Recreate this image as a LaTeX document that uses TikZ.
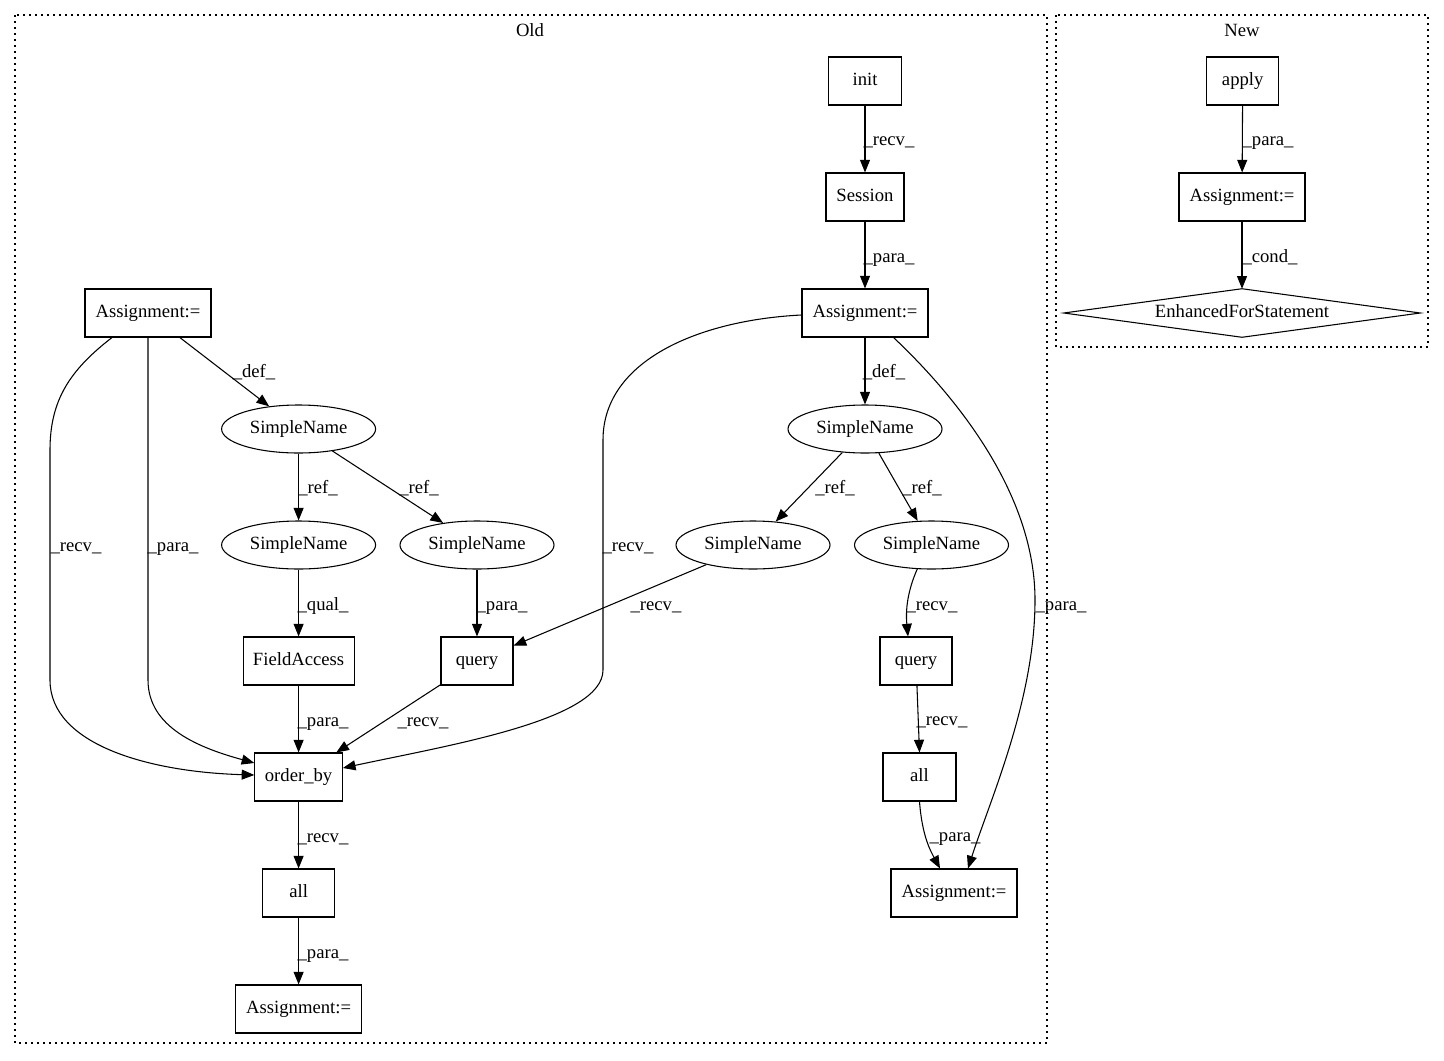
\documentclass[tikz,border=0pt]{standalone}
\usepackage{fontspec}
\setmainfont{Liberation Serif}
\usetikzlibrary{arrows.meta,calc,shapes.geometric}
\begin{document}
\begin{tikzpicture}[x=0.75pt,y=-0.75pt,
  every node/.style={font=\fontsize{14pt}{16pt}\selectfont,text height=10pt,text depth=3pt},
  box/.style={draw,line width=0.8pt,rectangle,minimum height=36pt,inner sep=0pt},
  ell/.style={draw,line width=0.8pt,ellipse,minimum width=115.5pt,minimum height=36pt,inner sep=0pt},
  edge/.style={draw,line width=0.8pt,-{Triangle[length=9.5pt,width=7.5pt]}},
  lbl/.style={inner sep=0pt,yshift=-1.5pt},
  cluster/.style={draw,line width=0.8pt,dash pattern=on 1.2pt off 3.3pt}]
\useasboundingbox (0,0) rectangle (1444,1060);

% clusters
\draw[cluster] (15,15) rectangle (1047,1043);
\draw[cluster] (1056,15) rectangle (1428,347);
\node[yshift=-1.5pt] (old) at (530,30) {Old};
\node[yshift=-1.5pt] (new) at (1242,30) {New};

% nodes - Old
\node[box,minimum width=54.75pt] (init) at (865,81) {init};
\node[box,minimum width=58.5pt] (sess) at (865,197) {Session};
\node[box,minimum width=94.5pt] (A2) at (865,313) {Assignment:=};
\node[box,minimum width=94.5pt] (A1) at (148,313) {Assignment:=};
\node[ell] (S1) at (298.6,429) {SimpleName};
\node[ell] (S2) at (298.6,545) {SimpleName};
\node[ell] (S3) at (477,545) {SimpleName};
\node[ell] (S4) at (865,429) {SimpleName};
\node[ell] (S5) at (753,545) {SimpleName};
\node[ell] (S6) at (931.5,545) {SimpleName};
\node[box,minimum width=83.25pt] (fa) at (298.6,661) {FieldAccess};
\node[box,minimum width=54pt] (q1) at (477,661) {query};
\node[box,minimum width=54pt] (q2) at (916,661) {query};
\node[box,minimum width=65.6pt] (ob) at (298.6,777) {order\_by};
\node[box,minimum width=54pt] (all1) at (298.6,893) {all};
\node[box,minimum width=54.75pt] (all2) at (919.5,777) {all};
\node[box,minimum width=94.5pt] (A3) at (298.6,1009) {Assignment:=};
\node[box,minimum width=94.5pt] (A4) at (954,893) {Assignment:=};

% nodes - New
\node[box,minimum width=54pt] (apply) at (1242.7,81) {apply};
\node[box,minimum width=94.5pt] (A5) at (1242,197) {Assignment:=};
\node[minimum width=267pt,minimum height=36pt,inner sep=0pt] (efs) at (1242,313) {EnhancedForStatement};
\draw[line width=0.8pt] (efs.west) -- (efs.north) -- (efs.east) -- (efs.south) -- cycle;

% edges - Old right
\draw[edge] (init) -- (sess) node[lbl] at (889,139) {\_recv\_};
\draw[edge] (sess) -- (A2) node[lbl] at (889,256) {\_para\_};
\draw[edge] (A2) -- (S4) node[lbl] at (884,371) {\_def\_};
\draw[edge] (S4) -- (S5) node[lbl] at (835,487) {\_ref\_};
\draw[edge] (S4) -- (S6) node[lbl] at (922,487) {\_ref\_};
\draw[edge] (S5) -- (q1) node[lbl] at (656,604) {\_recv\_};
\draw[edge] ($(S6.south)+(-14,-1)$) .. controls (910,585) and (905,605) .. ($(q2.north)+(-8,0)$);
\node[lbl] at (932,604) {\_recv\_};
\draw[edge] (q2) -- (all2.north) node[lbl] at (942,719) {\_recv\_};
\draw[edge] (all2.south) .. controls (922,835) and (930,850) .. ($(A4.north)+(-14,0)$);
\node[lbl] at (955,835) {\_para\_};
\draw[edge] ($(A2.south east)+(-35,0)$) .. controls (965,405) and (1035,500) .. (1035,600) .. controls (1035,700) and (990,800) .. ($(A4.north)+(14,0)$);
\node[lbl] at (1061,604) {\_para\_};
\draw[edge] ($(A2.west)+(0,2)$) .. controls (700,320) and (603,360) .. (603,440) -- (603,670) .. controls (603,720) and (450,745) .. ($(ob.east)+(0,-9)$);
\node[lbl] at (628,545) {\_recv\_};

% edges - Old left
\draw[edge] (A1) -- (S1) node[lbl] at (254,371) {\_def\_};
\draw[edge] (S1) -- (S2) node[lbl] at (318,487) {\_ref\_};
\draw[edge] (S1) -- (S3) node[lbl] at (419,487) {\_ref\_};
\draw[edge] (S2) -- (fa) node[lbl] at (323,604) {\_qual\_};
\draw[edge] (S3) -- (q1) node[lbl] at (502,604) {\_para\_};
\draw[edge] (fa) -- (ob) node[lbl] at (323,720) {\_para\_};
\draw[edge] (q1) -- (ob) node[lbl] at (423,720) {\_recv\_};
\draw[edge] (ob) -- (all1) node[lbl] at (323,836) {\_recv\_};
\draw[edge] (all1) -- (A3) node[lbl] at (323,952) {\_para\_};
\draw[edge] ($(A1.south)+(-36,0)$) .. controls (70,370) and (50,400) .. (50,450) -- (50,680) .. controls (50,745) and (150,772) .. ($(ob.west)+(0,-2)$);
\node[lbl] at (76,545) {\_recv\_};
\draw[edge] (A1.south) -- (148,680) .. controls (148,728) and (200,748) .. ($(ob.west)+(0,-14)$);
\node[lbl] at (173,545) {\_para\_};

% edges - New
\draw[edge] (apply) -- (A5) node[lbl] at (1268,139) {\_para\_};
\draw[edge] (A5) -- (efs.north) node[lbl] at (1270,256) {\_cond\_};
\end{tikzpicture}
\end{document}
